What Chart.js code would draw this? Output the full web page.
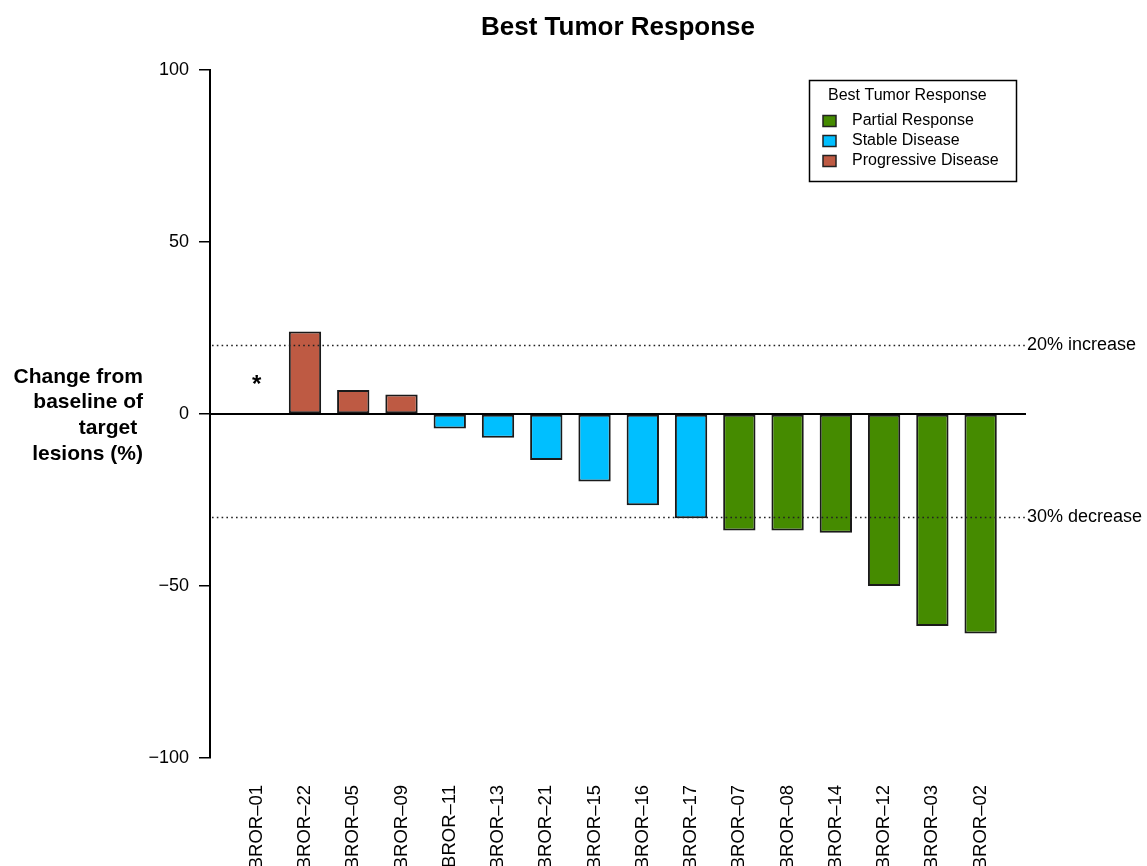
<!DOCTYPE html>
<html>
<head>
<meta charset="utf-8">
<script src="https://cdn.jsdelivr.net/npm/chart.js@4.4.1/dist/chart.umd.min.js"></script>
<style>
  html, body { margin: 0; padding: 0; background: #fff; overflow: hidden; }
  #wrap { width: 1147px; height: 866px; position: relative; }
</style>
</head>
<body>
<div id="wrap"><canvas id="tumorChart" width="1147" height="866"></canvas></div>
<script>
// 病人編號與最佳腫瘤反應
const patients = ['BROR\u201301', 'BROR\u201322', 'BROR\u201305', 'BROR\u201309', 'BROR\u201311', 'BROR\u201313',
  'BROR\u201321', 'BROR\u201315', 'BROR\u201316', 'BROR\u201317', 'BROR\u201307', 'BROR\u201308',
  'BROR\u201314', 'BROR\u201312', 'BROR\u201303', 'BROR\u201302'];
const changePct = [null, 24.0, 7.0, 5.7, -4.2, -6.9, -13.4, -19.6, -26.5, -30.3, -33.9, -33.9, -34.5, -50.0, -61.6, -63.8];
const response = ['NE', 'PD', 'PD', 'PD', 'SD', 'SD', 'SD', 'SD', 'SD', 'SD', 'PR', 'PR', 'PR', 'PR', 'PR', 'PR'];
const yTicks = [-100, -50, 0, 50, 100];
const refLines = [20, -30];
const refLabels = ['20% increase', '30% decrease'];
const legendLabels = ['Partial Response', 'Stable Disease', 'Progressive Disease'];
const legendKeys = ['PR', 'SD', 'PD'];
const asteriskIndex = 0;
const asteriskValue = 9;

const colors = { PR: '#458B00', SD: '#00BFFF', PD: '#BE5A43', NE: '#ffffff' };
const FONT = 'Liberation Sans, Arial, Helvetica, sans-serif';

const barData = changePct.map((v, i) => ({ x: i, y: v }));

/* 參考線、星號、y 軸標題與圖例 */
const decorPlugin = {
  id: 'decor',
  afterDatasetsDraw(chart) {
    const { ctx, chartArea, scales } = chart;
    const x = scales.x, y = scales.y;
    ctx.save();
    // 虛線
    ctx.strokeStyle = '#222';
    ctx.lineWidth = 1.6;
    ctx.setLineDash([1.6, 3.2]);
    refLines.forEach((v, i) => {
      const py = Math.round(y.getPixelForValue(v)) + 0.5;
      ctx.beginPath();
      ctx.moveTo(chartArea.left + 2, py);
      ctx.lineTo(chartArea.right, py);
      ctx.stroke();
      ctx.font = '18px ' + FONT;
      ctx.fillStyle = '#000';
      ctx.textBaseline = 'middle';
      ctx.textAlign = 'left';
      ctx.fillText(refLabels[i], chartArea.right + 1, py);
    });
    ctx.setLineDash([]);
    // 零線
    const py0 = y.getPixelForValue(0);
    ctx.strokeStyle = '#000';
    ctx.lineWidth = 2;
    ctx.beginPath();
    ctx.moveTo(chartArea.left, py0);
    ctx.lineTo(chartArea.right, py0);
    ctx.stroke();
    // 星號
    ctx.font = 'bold 24px ' + FONT;
    ctx.textAlign = 'center';
    ctx.textBaseline = 'middle';
    ctx.fillText('*', x.getPixelForValue(asteriskIndex), y.getPixelForValue(asteriskValue) + 2);
    ctx.restore();
  },
  afterDraw(chart) {
    const { ctx } = chart;
    ctx.save();
    // y 軸標題
    ctx.font = 'bold 21px ' + FONT;
    ctx.fillStyle = '#000';
    ctx.textAlign = 'right';
    ctx.textBaseline = 'middle';
    const lines = ['Change from', 'baseline of', 'target ', 'lesions (%)'];
    lines.forEach((t, i) => ctx.fillText(t, 143, 377 + i * 25.7));
    // 圖例
    ctx.strokeStyle = '#000';
    ctx.lineWidth = 1.5;
    ctx.strokeRect(809.5, 80.5, 207, 101);
    ctx.font = '16px ' + FONT;
    ctx.textAlign = 'left';
    ctx.fillText('Best Tumor Response', 828, 96);
    legendLabels.forEach((t, i) => {
      const ly = 121 + i * 20;
      ctx.fillStyle = colors[legendKeys[i]];
      ctx.fillRect(823, ly - 5.5, 13, 11);
      ctx.strokeStyle = '#222';
      ctx.lineWidth = 1.5;
      ctx.strokeRect(823, ly - 5.5, 13, 11);
      ctx.fillStyle = '#000';
      ctx.fillText(t, 852, ly);
    });
    ctx.restore();
  }
};

const chart = new Chart(document.getElementById('tumorChart'), {
  type: 'bar',
  data: {
    datasets: [{
      label: 'Best Tumor Response',
      data: barData,
      backgroundColor: response.map(r => colors[r]),
      borderColor: '#1a1a1a',
      borderWidth: 2,
      borderSkipped: false,
      categoryPercentage: 1,
      barPercentage: 0.67
    }]
  },
  options: {
    responsive: false,
    animation: false,
    layout: { padding: { left: 0, right: 121, top: 0, bottom: 0 } },
    plugins: {
      legend: { display: false },
      tooltip: { enabled: false },
      title: {
        display: true,
        text: 'Best Tumor Response',
        fullSize: false,
        color: '#000',
        font: { family: FONT, size: 26, weight: 'bold' },
        padding: { top: 12, bottom: 26.8 }
      }
    },
    scales: {
      x: {
        type: 'linear',
        offset: false,
        min: -0.968,
        max: 15.94,
        grid: { display: false, drawTicks: false, offset: false },
        border: { display: false },
        afterBuildTicks(scale) {
          scale.ticks = patients.map((p, i) => ({ value: i }));
        },
        afterFit(scale) { scale.height = 108; },
        ticks: {
          autoSkip: false,
          minRotation: 90,
          maxRotation: 90,
          padding: 27,
          color: '#000',
          font: { family: FONT, size: 18.5 },
          callback: (v) => patients[v]
        }
      },
      y: {
        min: -100,
        max: 100,
        afterBuildTicks(scale) {
          scale.ticks = yTicks.map(v => ({ value: v }));
        },
        afterFit(scale) { scale.width = 210; },
        grid: { drawOnChartArea: false, drawTicks: true, tickLength: 11, color: '#000', lineWidth: 1.5 },
        border: { display: true, color: '#000', width: 2 },
        ticks: {
          padding: 10,
          color: '#000',
          font: { family: FONT, size: 18 },
          callback: (v) => v < 0 ? '\u2212' + Math.abs(v) : String(v)
        }
      }
    }
  },
  plugins: [decorPlugin]
});
</script>
</body>
</html>
